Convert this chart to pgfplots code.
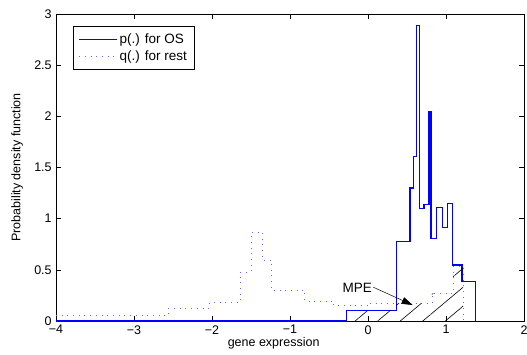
\documentclass[border=0pt]{standalone}
\usepackage{fontspec}
\setmainfont{Liberation Sans}
\usepackage{pgfplots}
\pgfplotsset{compat=1.18}
\usetikzlibrary{patterns.meta,arrows.meta}
\definecolor{qcol}{rgb}{0.4,0.4,1}
\definecolor{pcol}{rgb}{0,0,1}
\begin{document}
\fontsize{12.5}{15}\selectfont
\begin{tikzpicture}
\pgfplotsset{common/.style={
  at={(0pt,0pt)}, anchor=south west,
  scale only axis, width=468pt, height=307pt,
  xmin=-4, xmax=2, ymin=0, ymax=3}}
\begin{axis}[
  common,
  xtick={-4,-3,-2,-1,0,1,2},
  xticklabels={−4,−3,−2,−1,0,1,2},
  ytick={0,0.5,1,1.5,2,2.5,3},
  yticklabels={0,0.5,1,1.5,2,2.5,3},
  tick align=inside, major tick length=5pt,
  every tick/.style={black, line width=0.5pt},
  axis line style={black, line width=0.8pt},
  xlabel={gene expression},
  ylabel={Probability density function},
  every axis x label/.style={at={(axis description cs:0.465,-0.072)}, anchor=center},
  every axis y label/.style={at={(axis description cs:-0.083,0.5)}, rotate=90, anchor=center},
  legend style={at={(rel axis cs:0.037,0.961)}, anchor=north west, draw=black, line width=0.5pt,
     inner xsep=5pt, inner ysep=5.5pt, row sep=1pt, cells={anchor=west},
     font=\fontsize{13.5}{15}\selectfont, nodes={inner sep=2pt}},
  legend image code/.code={\draw[#1] (0pt,0pt) -- (38pt,0pt);},
  clip=false,
]
\addplot[const plot, draw=pcol, line width=1.1pt] coordinates {
  (-4,0) (-0.273,0) (-0.273,0.107) (0.365,0.775) (0.538,1.30) (0.581,1.61) (0.625,2.89)
  (0.658,1.10) (0.718,1.14) (0.782,2.05) (0.808,0.81) (0.881,1.11) (0.953,0.91)
  (1.019,1.15) (1.083,0.547) (1.205,0.385) (1.381,0)};
\addlegendentry{p(.) for OS}
\addplot[const plot, draw=qcol, line width=0.7pt, dash pattern=on 0.8pt off 4.9pt] coordinates {
  (-4,0.052) (-2.56,0.124) (-2.03,0.179) (-1.64,0.48) (-1.50,0.867) (-1.35,0.596)
  (-1.235,0.303) (-0.81,0.196) (-0.44,0.15) (0.01,0.173) (0.82,0.27) (1.09,0.53) (1.22,0)};
\addlegendentry{q(.) for rest}
\node[font=\fontsize{13.5}{15}\selectfont] at (axis cs:-0.137,0.32) {MPE};
\draw[-{Triangle[length=11pt,width=7pt]}, line width=0.5pt] (axis cs:0.068,0.33) -- (axis cs:0.573,0.156);
\end{axis}
\begin{axis}[common, hide axis]
\addplot[const plot, draw=none, pattern={Lines[angle=40,distance=14.5pt,line width=0.6pt]}, pattern color=black]
  coordinates {(-0.273,0.107) (0.365,0.173) (0.82,0.27) (1.09,0.53) (1.22,0.53)} \closedcycle;
\end{axis}
\pgfresetboundingbox
\path (-56pt,-33pt) rectangle (471pt,321pt);
\end{tikzpicture}
\end{document}
